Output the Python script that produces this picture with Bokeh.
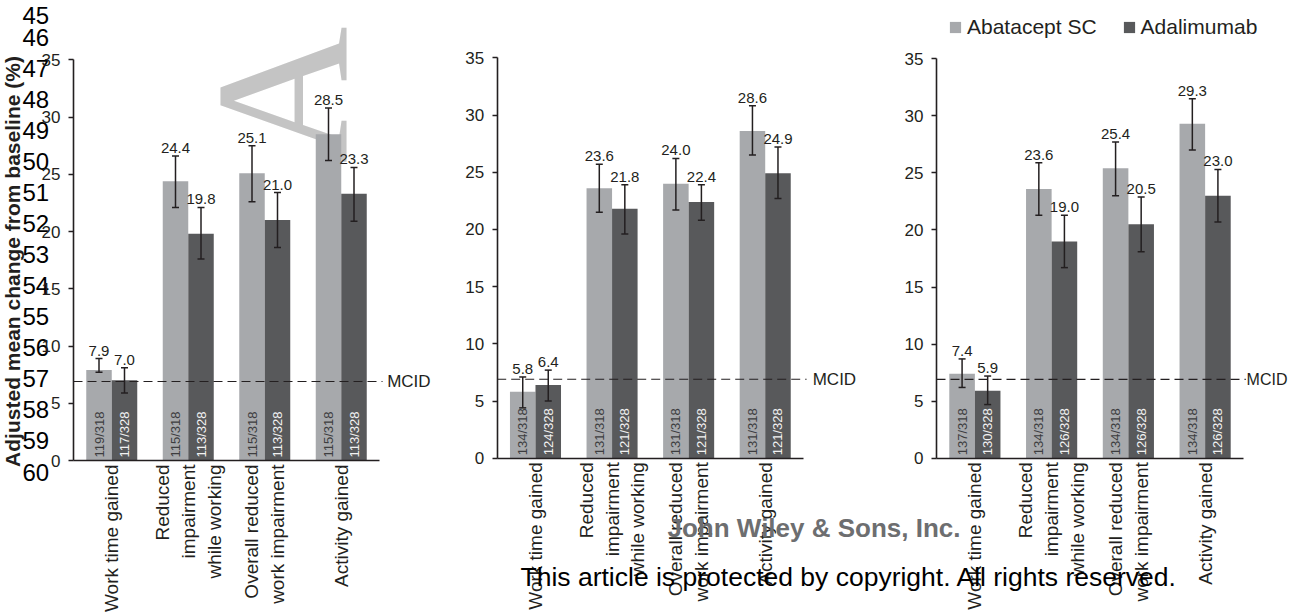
import math
from bokeh.plotting import figure
from bokeh.models import (Range1d, LinearAxis, FixedTicker, ColumnDataSource,
                          Whisker, TeeHead, Legend, LegendItem)
from bokeh.core.properties import value
from bokeh.embed import file_html
from bokeh.resources import INLINE

# ---------------- data ----------------
categories = ["Work time gained",
              "Reduced\nimpairment\nwhile working",
              "Overall reduced\nwork impairment",
              "Activity gained"]
series_names = ["Abatacept SC", "Adalimumab"]
y_ticks = [0, 5, 10, 15, 20, 25, 30, 35]
mcid = 6.9

# panel 1
p1_abatacept = [7.9, 24.4, 25.1, 28.5]
p1_adalimumab = [7.0, 19.8, 21.0, 23.3]
p1_abatacept_lo = [7.7, 22.1, 22.6, 26.2]
p1_abatacept_hi = [8.9, 26.6, 27.5, 30.8]
p1_adalimumab_lo = [5.9, 17.6, 18.6, 20.9]
p1_adalimumab_hi = [8.1, 22.1, 23.4, 25.6]
p1_abatacept_n = ["119/318", "115/318", "115/318", "115/318"]
p1_adalimumab_n = ["117/328", "113/328", "113/328", "113/328"]

# panel 2
p2_abatacept = [5.8, 23.6, 24.0, 28.6]
p2_adalimumab = [6.4, 21.8, 22.4, 24.9]
p2_abatacept_lo = [4.4, 21.5, 21.7, 26.5]
p2_abatacept_hi = [7.1, 25.7, 26.2, 30.8]
p2_adalimumab_lo = [5.0, 19.6, 20.8, 22.7]
p2_adalimumab_hi = [7.7, 23.9, 23.9, 27.2]
p2_abatacept_n = ["134/318", "131/318", "131/318", "131/318"]
p2_adalimumab_n = ["124/328", "121/328", "121/328", "121/328"]

# panel 3
p3_abatacept = [7.4, 23.6, 25.4, 29.3]
p3_adalimumab = [5.9, 19.0, 20.5, 23.0]
p3_abatacept_lo = [6.2, 21.3, 23.0, 27.0]
p3_abatacept_hi = [8.7, 25.9, 27.7, 31.5]
p3_adalimumab_lo = [4.7, 16.7, 18.1, 20.7]
p3_adalimumab_hi = [7.2, 21.3, 22.9, 25.3]
p3_abatacept_n = ["137/318", "134/318", "134/318", "134/318"]
p3_adalimumab_n = ["130/328", "126/328", "126/328", "126/328"]

line_numbers = [str(n) for n in range(45, 61)]

panels = [
    dict(aba=p1_abatacept, ada=p1_adalimumab, aba_lo=p1_abatacept_lo, aba_hi=p1_abatacept_hi,
         ada_lo=p1_adalimumab_lo, ada_hi=p1_adalimumab_hi, aba_n=p1_abatacept_n, ada_n=p1_adalimumab_n),
    dict(aba=p2_abatacept, ada=p2_adalimumab, aba_lo=p2_abatacept_lo, aba_hi=p2_abatacept_hi,
         ada_lo=p2_adalimumab_lo, ada_hi=p2_adalimumab_hi, aba_n=p2_abatacept_n, ada_n=p2_adalimumab_n),
    dict(aba=p3_abatacept, ada=p3_adalimumab, aba_lo=p3_abatacept_lo, aba_hi=p3_abatacept_hi,
         ada_lo=p3_adalimumab_lo, ada_hi=p3_adalimumab_hi, aba_n=p3_abatacept_n, ada_n=p3_adalimumab_n),
]

# ---------------- layout / style ----------------
W, H = 1289, 613
# pixel geometry of each panel: axis left x, x-axis length, zero y (from top), y of 35 (from top)
geoms = [
    dict(left=73.0, span=306.0, zero=460.0, top=59.3, mcid_end=4.04, mcid_lab=4.10, mcid_fs="17px"),
    dict(left=496.7, span=306.3, zero=457.7, top=57.3, mcid_end=4.04, mcid_lab=4.12, mcid_fs="17px"),
    dict(left=936.0, span=307.0, zero=457.7, top=58.3, mcid_end=4.03, mcid_lab=4.04, mcid_fs="16px"),
]
FONT = "Liberation Sans"
INK = "#231f20"
LIGHT = "#a7a9ac"
DARK = "#58595b"

p = figure(width=W, height=H, x_range=Range1d(0, W), y_range=Range1d(0, H),
           x_axis_type=None, y_axis_type=None, toolbar_location=None,
           output_backend="svg", min_border=0, outline_line_color=None,
           background_fill_color="white", border_fill_color="white")

# watermark letter (behind everything)
p.text(x=[282], y=[H - 163], text=["A"], angle=math.pi / 2,
       text_align="left", text_baseline="alphabetic",
       text_font=value("Liberation Serif"), text_font_size="190px", text_color="#c4c4c4")

bar_renderers = []
for k, (d, g) in enumerate(zip(panels, geoms), start=1):
    xn, yn = f"x{k}", f"y{k}"
    sx = g["span"] / 4.0
    sy = (g["zero"] - g["top"]) / 35.0
    yb = H - g["zero"]
    p.extra_x_ranges[xn] = Range1d(-g["left"] / sx, (W - g["left"]) / sx)
    p.extra_y_ranges[yn] = Range1d(-yb / sy, (H - yb) / sy)
    kw = dict(x_range_name=xn, y_range_name=yn)

    yaxis = LinearAxis(fixed_location=0, bounds=(0, 35), ticker=FixedTicker(ticks=y_ticks),
                       axis_line_color=INK, axis_line_width=1.6,
                       major_tick_line_color=INK, major_tick_line_width=1.6,
                       major_tick_out=5, major_tick_in=0, minor_tick_line_color=None,
                       major_label_text_font=FONT, major_label_text_font_size="17px",
                       major_label_text_color=INK, major_label_standoff=8, **kw)
    p.add_layout(yaxis, "left")
    xaxis = LinearAxis(fixed_location=0, bounds=(0, 4), ticker=FixedTicker(ticks=[]),
                       axis_line_color=INK, axis_line_width=1.6,
                       major_tick_line_color=None, minor_tick_line_color=None,
                       major_label_text_font_size="0px", **kw)
    p.add_layout(xaxis, "below")

    xc = [i + 0.5 for i in range(len(categories))]
    x_aba = [c - 1 / 6 for c in xc]
    x_ada = [c + 1 / 6 for c in xc]

    ra = p.vbar(x=x_aba, top=d["aba"], bottom=0, width=1 / 3, fill_color=LIGHT,
                line_color=None, **kw)
    rd = p.vbar(x=x_ada, top=d["ada"], bottom=0, width=1 / 3, fill_color=DARK,
                line_color=None, **kw)
    bar_renderers.append((ra, rd))

    # MCID line
    p.segment(x0=[0], x1=[g["mcid_end"]], y0=[mcid], y1=[mcid], line_color=INK,
              line_width=1.2, line_dash="9 5", **kw)
    p.text(x=[g["mcid_lab"]], y=[mcid], text=["MCID"], text_align="left",
           text_baseline="middle", text_font=value(FONT), text_font_size=g["mcid_fs"],
           text_color=INK, **kw)

    # error bars
    for xs, lo, hi in ((x_aba, d["aba_lo"], d["aba_hi"]), (x_ada, d["ada_lo"], d["ada_hi"])):
        src = ColumnDataSource(dict(x=xs, lo=lo, hi=hi))
        w = Whisker(source=src, base="x", lower="lo", upper="hi", dimension="height",
                    line_color=INK, line_width=1.5, level="annotation",
                    upper_head=TeeHead(size=7, line_color=INK, line_width=1.5),
                    lower_head=TeeHead(size=7, line_color=INK, line_width=1.5), **kw)
        p.add_layout(w)

    # value labels
    for xs, vals, hi in ((x_aba, d["aba"], d["aba_hi"]), (x_ada, d["ada"], d["ada_hi"])):
        p.text(x=xs, y=hi, text=[f"{v:.1f}" for v in vals], text_align="center",
               text_baseline="bottom", y_offset=-3, text_font=value(FONT),
               text_font_size="15px", text_color=INK, **kw)

    # n labels inside bars
    p.text(x=x_aba, y=[0] * 4, text=d["aba_n"], angle=math.pi / 2, text_align="left",
           text_baseline="middle", y_offset=-3, text_font=value(FONT),
           text_font_size="13px", text_color="#3d3d3f", **kw)
    p.text(x=x_ada, y=[0] * 4, text=d["ada_n"], angle=math.pi / 2, text_align="left",
           text_baseline="middle", y_offset=-3, text_font=value(FONT),
           text_font_size="13px", text_color="#f2f2f2", **kw)

    # category labels
    p.text(x=xc, y=[0] * 4, text=categories, angle=math.pi / 2, text_align="right",
           text_baseline="middle", y_offset=4, text_font=value(FONT),
           text_font_size="19px", text_line_height=1.23, text_color=INK, **kw)

# legend
ra3, rd3 = bar_renderers[2]
legend = Legend(items=[LegendItem(label=series_names[0], renderers=[ra3]),
                       LegendItem(label=series_names[1], renderers=[rd3])],
                location=(948, 574), orientation="horizontal", glyph_width=14,
                glyph_height=14, label_text_font=FONT, label_text_font_size="21px",
                label_text_color=INK, label_standoff=5, spacing=25, padding=0,
                margin=0, border_line_color=None, background_fill_alpha=0,
                label_height=14)
p.add_layout(legend)

# y axis title
p.text(x=[12], y=[H - 261], text=["Adjusted mean change from baseline (%)"],
       angle=math.pi / 2, text_align="center", text_baseline="middle",
       text_font=value(FONT), text_font_style="bold", text_font_size="21px",
       text_color=INK)

# manuscript line numbers (first one kept just inside the top edge)
ln_y = [max(5.6 + i * 31.06, 15.0) for i in range(len(line_numbers))]
p.text(x=[22] * len(line_numbers), y=[H - v for v in ln_y],
       text=line_numbers, text_align="left", text_baseline="middle",
       text_font=value(FONT), text_font_size="24px", text_color="black")

# publisher notes
p.text(x=[667], y=[H - 527], text=["John Wiley & Sons, Inc."], text_align="left",
       text_baseline="alphabetic", text_font=value(FONT),
       text_font_style="bold", text_font_size="26px", text_color="#6d6e70")
p.text(x=[520], y=[H - 576], text=["This article is protected by copyright. All rights reserved."],
       text_align="left", text_baseline="alphabetic",
       text_font=value(FONT), text_font_size="26.5px", text_color="black")

open("out.html", "w").write(file_html(p, INLINE))
